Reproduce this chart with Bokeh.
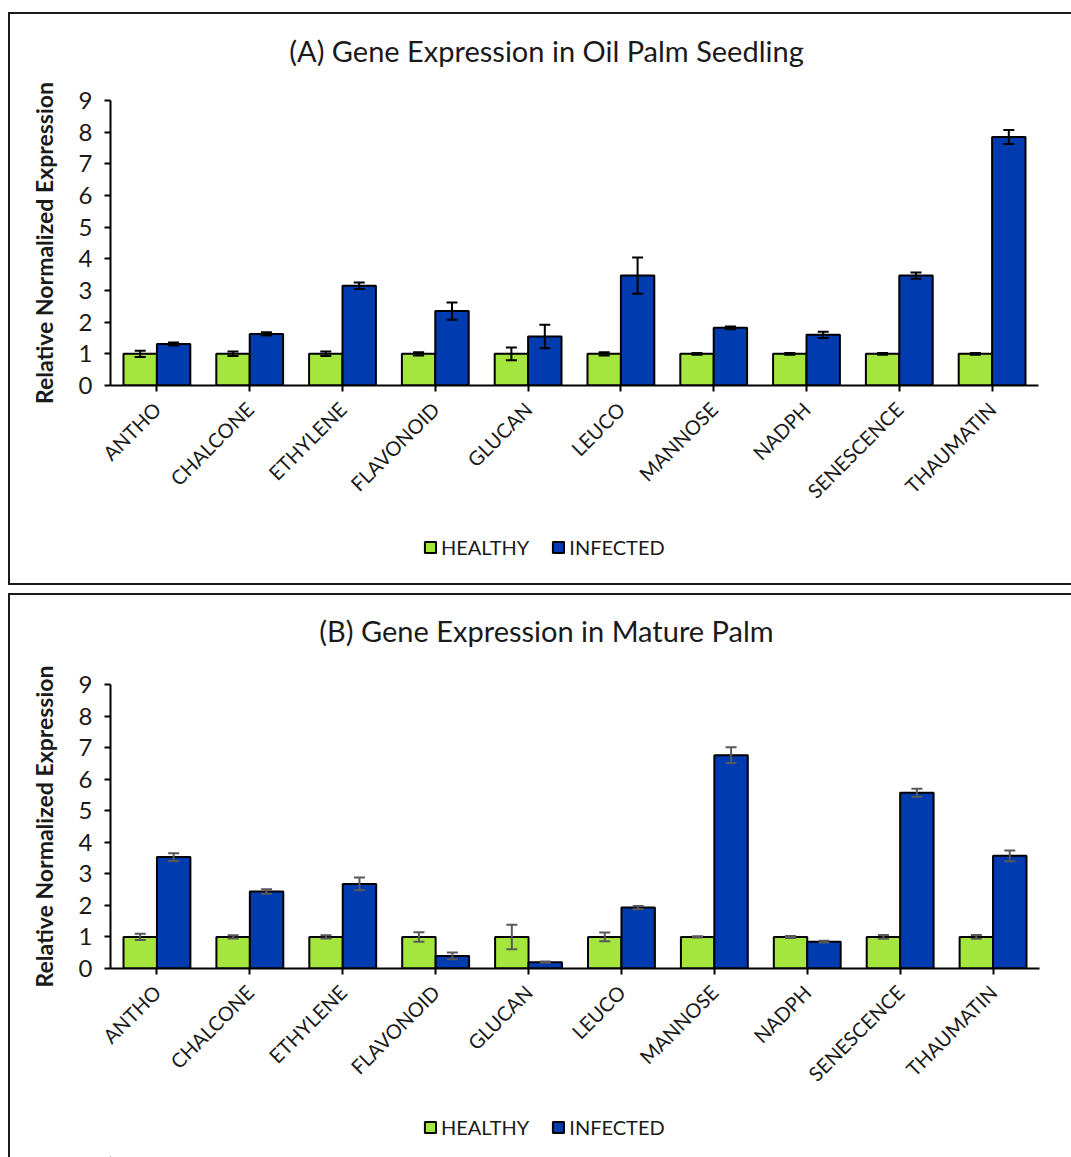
from bokeh.plotting import figure
from bokeh.models import (ColumnDataSource, Range1d, FactorRange, Whisker, TeeHead,
                          Legend, LegendItem, Label, FixedTicker)
from bokeh.transform import dodge
from bokeh.layouts import column
from bokeh.embed import file_html
from bokeh.resources import INLINE

genes = ["ANTHO", "CHALCONE", "ETHYLENE", "FLAVONOID", "GLUCAN",
         "LEUCO", "MANNOSE", "NADPH", "SENESCENCE", "THAUMATIN"]
y_ticks = [0, 1, 2, 3, 4, 5, 6, 7, 8, 9]
series_names = ["HEALTHY", "INFECTED"]
titles = ["(A) Gene Expression in Oil Palm Seedling", "(B) Gene Expression in Mature Palm"]

seedling_healthy = [1.0, 1.0, 1.0, 1.0, 1.0, 1.0, 1.0, 1.0, 1.0, 1.0]
seedling_healthy_err = [0.10, 0.07, 0.07, 0.05, 0.20, 0.05, 0.03, 0.03, 0.03, 0.03]
seedling_infected = [1.31, 1.63, 3.15, 2.35, 1.55, 3.47, 1.82, 1.60, 3.47, 7.85]
seedling_infected_err = [0.05, 0.05, 0.10, 0.27, 0.37, 0.57, 0.04, 0.10, 0.10, 0.22]

mature_healthy = [1.0, 1.0, 1.0, 1.0, 1.0, 1.0, 1.0, 1.0, 1.0, 1.0]
mature_healthy_err = [0.10, 0.05, 0.05, 0.15, 0.39, 0.14, 0.02, 0.03, 0.06, 0.06]
mature_infected = [3.53, 2.44, 2.68, 0.40, 0.20, 1.93, 6.76, 0.85, 5.57, 3.57]
mature_infected_err = [0.12, 0.07, 0.20, 0.11, 0.02, 0.05, 0.25, 0.03, 0.13, 0.17]

GREEN = "#A5E63E"
BLUE = "#003CAF"
FONT = "Lato"
TXT = "#1a1a1a"
BW = 0.36
B = "2px solid #1a1a1a"


def strip(height):
    q = figure(frame_width=1061, frame_height=height, x_range=Range1d(0, 1),
               y_range=Range1d(0, 1), output_backend="svg", toolbar_location=None,
               x_axis_location=None, y_axis_location=None,
               min_border_left=0, min_border_right=0, min_border_top=0, min_border_bottom=0)
    q.outline_line_color = None
    q.xgrid.grid_line_color = None
    q.ygrid.grid_line_color = None
    return q


def title_fig(text, height, cx, cy, styles):
    q = strip(height)
    q.styles = styles
    q.add_layout(Label(x=cx, y=cy, x_units="screen", y_units="screen", text=text,
                       text_align="center", text_baseline="middle", text_font=FONT,
                       text_font_size="29px", text_color=TXT))
    return q


def chart(healthy, h_err, infected, i_err, err_color, mb, fw, fh, styles):
    src = ColumnDataSource(dict(
        gene=genes, healthy=healthy, infected=infected,
        h_up=[v + e for v, e in zip(healthy, h_err)],
        h_lo=[v - e for v, e in zip(healthy, h_err)],
        i_up=[v + e for v, e in zip(infected, i_err)],
        i_lo=[v - e for v, e in zip(infected, i_err)],
    ))
    p = figure(x_range=FactorRange(*genes, range_padding=0), y_range=Range1d(0, 9),
               frame_width=fw, frame_height=fh, output_backend="svg", toolbar_location=None,
               min_border_left=mb[0], min_border_right=mb[1],
               min_border_top=mb[2], min_border_bottom=mb[3])
    p.styles = styles
    p.outline_line_color = None
    p.xgrid.grid_line_color = None
    p.ygrid.grid_line_color = None

    p.vbar(x=dodge("gene", -BW / 2, range=p.x_range), top="healthy", width=BW,
           source=src, fill_color=GREEN, line_color="black", line_width=2)
    p.vbar(x=dodge("gene", BW / 2, range=p.x_range), top="infected", width=BW,
           source=src, fill_color=BLUE, line_color="black", line_width=2)

    for off, up, lo in ((-BW / 2, "h_up", "h_lo"), (BW / 2, "i_up", "i_lo")):
        w = Whisker(base=dodge("gene", off, range=p.x_range), upper=up, lower=lo, source=src,
                    line_color=err_color, line_width=2, level="annotation",
                    upper_head=TeeHead(size=11, line_color=err_color, line_width=2),
                    lower_head=TeeHead(size=11, line_color=err_color, line_width=2))
        p.add_layout(w)

    p.yaxis.ticker = FixedTicker(ticks=y_ticks)
    p.yaxis.minor_tick_line_color = None
    for ax in (p.xaxis, p.yaxis):
        ax.axis_line_color = "black"
        ax.axis_line_width = 2
        ax.major_tick_line_color = "black"
        ax.major_tick_line_width = 2
        ax.major_tick_out = 6
        ax.major_tick_in = 0
        ax.major_label_text_font = FONT
        ax.major_label_text_color = TXT
    p.yaxis.major_label_text_font_size = "24px"
    p.yaxis.major_label_standoff = 12
    p.yaxis.axis_label = "Relative Normalized Expression"
    p.yaxis.axis_label_text_font = FONT
    p.yaxis.axis_label_text_font_size = "23px"
    p.yaxis.axis_label_text_font_style = "bold"
    p.yaxis.axis_label_text_color = TXT
    p.yaxis.axis_label_standoff = 18
    p.xaxis.major_label_orientation = 0.785398
    p.xaxis.major_label_text_font_size = "20px"
    p.xaxis.major_label_standoff = 14
    return p


def legend_fig(height, loc, styles):
    q = strip(height)
    q.styles = styles
    # swatch-only renderers, kept outside the visible range of this legend strip
    swatch = ColumnDataSource(dict(x=[-5.0], top=[-5.0]))
    rh = q.vbar(x="x", top="top", width=0.1, source=swatch,
                fill_color=GREEN, line_color="black", line_width=2)
    ri = q.vbar(x="x", top="top", width=0.1, source=swatch,
                fill_color=BLUE, line_color="black", line_width=2)
    leg = Legend(items=[LegendItem(label=series_names[0], renderers=[rh], index=0),
                        LegendItem(label=series_names[1], renderers=[ri], index=0)],
                 orientation="horizontal", location=loc,
                 glyph_width=14, glyph_height=14, label_height=20, label_standoff=4,
                 spacing=22, padding=2, margin=0, border_line_color=None,
                 background_fill_alpha=0,
                 label_text_font=FONT, label_text_font_size="20px", label_text_color=TXT)
    q.add_layout(leg, "center")
    return q


t1 = title_fig(titles[0], 60, 436, 26, {"border-left": B, "border-top": B})
t1.margin = (12, 0, 0, 8)
p1 = chart(seedling_healthy, seedling_healthy_err, seedling_infected, seedling_infected_err,
           "black", (97, 38, 26, 134), 926, 285, {"border-left": B})
p1.margin = (0, 0, 0, 8)
l1 = legend_fig(64, (413, 26), {"border-left": B, "border-bottom": B})
l1.margin = (0, 0, 0, 8)

t2 = title_fig(titles[1], 60, 436, 27, {"border-left": B, "border-top": B})
t2.margin = (8, 0, 0, 8)
p2 = chart(mature_healthy, mature_healthy_err, mature_infected, mature_infected_err,
           "#595959", (100, 34, 29, 134), 927, 284, {"border-left": B})
p2.margin = (0, 0, 0, 8)
l2 = legend_fig(55, (413, 18), {"border-left": B})
l2.margin = (0, 0, 0, 8)

root = column(t1, p1, l1, t2, p2, l2)
open("out.html", "w").write(file_html(root, INLINE))
